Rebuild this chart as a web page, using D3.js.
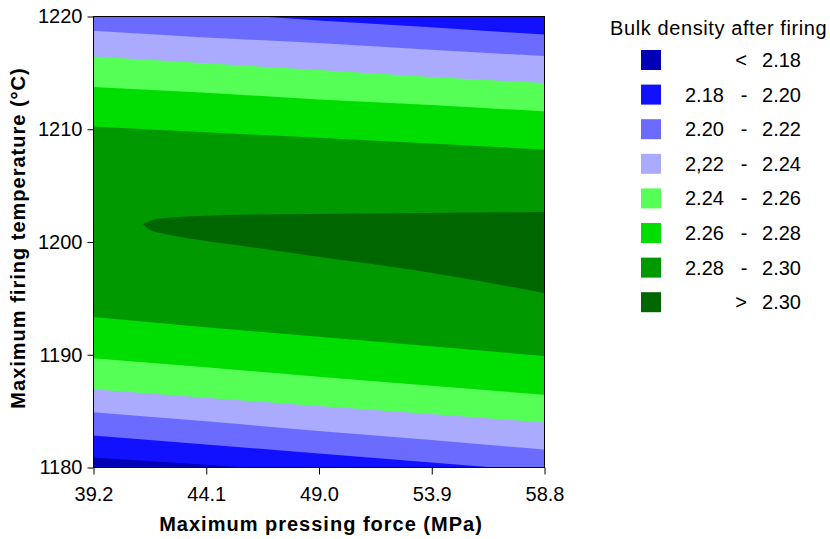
<!DOCTYPE html>
<html>
<head>
<meta charset="utf-8">
<script src="https://cdn.jsdelivr.net/npm/d3@7"></script>
<style>
  body { margin: 0; background: #fff; }
  svg { font-family: "Liberation Sans", Arial, sans-serif; }
  .axis text { font-size: 20px; fill: #000; }
  .axis path { display: none; }
  .axis line { stroke: #000; }
  .axis-title { font-size: 20px; font-weight: bold; letter-spacing: 1px; fill: #000; }
  .legend text { font-size: 20px; fill: #000; }
</style>
</head>
<body>
<div id="chart"></div>
<script>
// Axis ticks
const pressureTicks = [39.2, 44.1, 49.0, 53.9, 58.8];
const temperatureTicks = [1180, 1190, 1200, 1210, 1220];

// Legend classes (low to high density)
const bandColors = ["#0000b4", "#1111ff", "#6b6bff", "#aaaaff", "#55ff55", "#00dd00", "#009900", "#006600"];
const legendFrom = ["", "2.18", "2.20", "2,22", "2.24", "2.26", "2.28", ""];
const legendSign = ["<", "-", "-", "-", "-", "-", "-", ">"];
const legendTo = ["2.18", "2.20", "2.22", "2.24", "2.26", "2.28", "2.30", "2.30"];

// Contour lines: temperature (°C) at each pressure tick
// upper side of the ridge
const contour228Upper = [1210.2, 1209.7, 1209.2, 1208.7, 1208.15];
const contour226Upper = [1213.7, 1213.2, 1212.6, 1212.1, 1211.55];
const contour224Upper = [1216.4, 1215.8, 1215.2, 1214.6, 1214.05];
const contour222Upper = [1218.7, 1218.1, 1217.6, 1217.0, 1216.45];
const contour220Upper = [1221.0, 1220.3, 1219.6, 1219.0, 1218.35];
// lower side of the ridge
const contour228Lower = [1193.3, 1192.4, 1191.55, 1190.7, 1189.85];
const contour226Lower = [1189.65, 1188.85, 1188.0, 1187.2, 1186.4];
const contour224Lower = [1186.9, 1186.15, 1185.4, 1184.7, 1183.95];
const contour222Lower = [1184.85, 1184.05, 1183.2, 1182.4, 1181.55];
const contour220Lower = [1182.8, 1182.0, 1181.2, 1180.4, 1179.6];
const contour218Lower = [1180.85, 1180.2, 1179.5, 1178.8, 1178.15];

// Ridge (> 2.30) outline
const ridgePressure = [41.37, 41.68, 42.33, 43.85, 46.02, 48.76, 53.41, 58.8];
const ridgeTop = [1201.55, 1201.82, 1202.08, 1202.26, 1202.39, 1202.44, 1202.53, 1202.62];
const ridgeBottom = [1201.55, 1201.02, 1200.67, 1200.13, 1199.51, 1198.71, 1197.38, 1195.43];

const margin = { top: 16, left: 93 },
      width = 451,
      height = 451;

const svg = d3.select("#chart")
    .append("svg")
    .attr("width", 830)
    .attr("height", 539);

const g = svg.append("g")
    .attr("transform", `translate(${margin.left},${margin.top})`);

const x = d3.scaleLinear().domain([39.2, 58.8]).range([0, width]);
const y = d3.scaleLinear().domain([1180, 1220]).range([height, 0]);

g.append("clipPath").attr("id", "plot-clip")
    .append("rect").attr("width", width).attr("height", height);

const plot = g.append("g").attr("clip-path", "url(#plot-clip)");

// middle band as background
plot.append("rect")
    .attr("width", width)
    .attr("height", height)
    .attr("fill", bandColors[6]);

const above = d3.area()
    .x((d, i) => x(pressureTicks[i]))
    .y0(-10)
    .y1(d => y(d));
const below = d3.area()
    .x((d, i) => x(pressureTicks[i]))
    .y0(height + 10)
    .y1(d => y(d));

const upperLines = [
    [contour228Upper, 5], [contour226Upper, 4], [contour224Upper, 3],
    [contour222Upper, 2], [contour220Upper, 1]
];
const lowerLines = [
    [contour228Lower, 5], [contour226Lower, 4], [contour224Lower, 3],
    [contour222Lower, 2], [contour220Lower, 1], [contour218Lower, 0]
];

upperLines.forEach(([vals, band]) => {
    plot.append("path").attr("d", above(vals)).attr("fill", bandColors[band]);
});
lowerLines.forEach(([vals, band]) => {
    plot.append("path").attr("d", below(vals)).attr("fill", bandColors[band]);
});

const ridge = d3.area()
    .curve(d3.curveMonotoneX)
    .x((d, i) => x(ridgePressure[i]))
    .y0((d, i) => y(ridgeBottom[i]))
    .y1((d, i) => y(ridgeTop[i]));
plot.append("path")
    .attr("d", ridge(ridgePressure))
    .attr("fill", bandColors[7]);

// frame
g.append("rect")
    .attr("x", 0.5).attr("y", 0.5)
    .attr("width", width).attr("height", height)
    .attr("fill", "none")
    .attr("stroke", "#000");

// axes
g.append("g")
    .attr("class", "axis")
    .attr("transform", `translate(0.5,${height + 0.5})`)
    .call(d3.axisBottom(x).tickValues(pressureTicks).tickFormat(d3.format(".1f"))
        .tickSizeInner(7).tickSizeOuter(0).tickPadding(12));

g.append("g")
    .attr("class", "axis")
    .attr("transform", "translate(0.5,0.5)")
    .call(d3.axisLeft(y).tickValues(temperatureTicks).tickFormat(d3.format("d"))
        .tickSizeInner(6).tickSizeOuter(0).tickPadding(5));

svg.append("text")
    .attr("class", "axis-title")
    .attr("x", 321)
    .attr("y", 531)
    .attr("text-anchor", "middle")
    .text("Maximum pressing force (MPa)");

svg.append("text")
    .attr("class", "axis-title")
    .attr("transform", "translate(25,238) rotate(-90)")
    .attr("text-anchor", "middle")
    .text("Maximum firing temperature (°C)");

// legend
const legend = svg.append("g").attr("class", "legend");
legend.append("text")
    .attr("x", 610)
    .attr("y", 35)
    .style("letter-spacing", "0.6px")
    .text("Bulk density after firing");

const rowY = i => 60 + i * 34.6;
bandColors.forEach((c, i) => {
    legend.append("rect")
        .attr("x", 641).attr("y", rowY(i) - 10)
        .attr("width", 20).attr("height", 20)
        .attr("fill", c);
    legend.append("text")
        .attr("x", 685).attr("y", rowY(i) + 7)
        .text(legendFrom[i]);
    legend.append("text")
        .attr("x", legendFrom[i] ? 744 : 741).attr("y", rowY(i) + 7)
        .attr("text-anchor", "middle")
        .text(legendSign[i]);
    legend.append("text")
        .attr("x", 801).attr("y", rowY(i) + 7)
        .attr("text-anchor", "end")
        .text(legendTo[i]);
});
</script>
</body>
</html>
